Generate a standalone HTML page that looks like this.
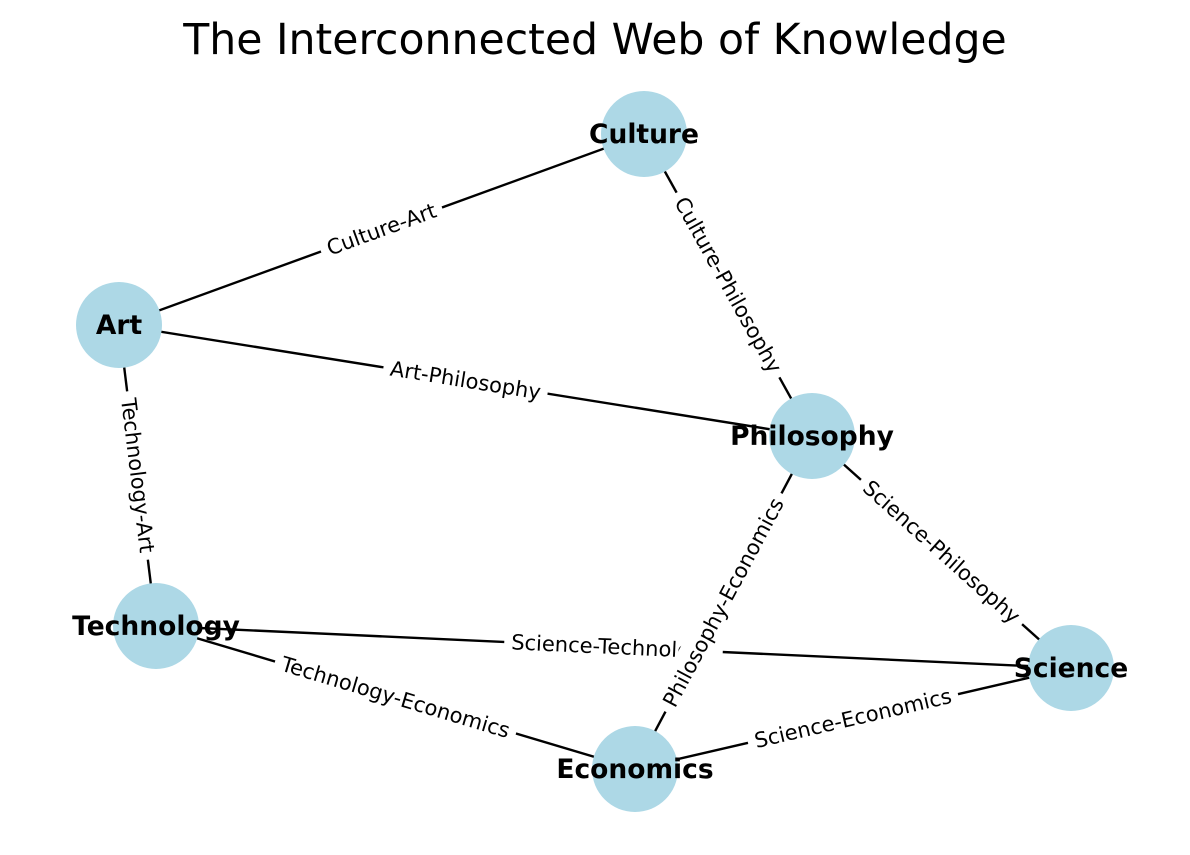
<!DOCTYPE html>
<html><head><meta charset="utf-8"><style>
body{margin:0;background:#fff}
svg{display:block;font-family:"DejaVu Sans","Liberation Sans",sans-serif}
</style></head><body>
<svg id="chart" width="1190" height="855" viewBox="0 0 1190 855" xmlns="http://www.w3.org/2000/svg">
<rect width="1190" height="855" fill="#fff"/>
<text x="595" y="54" text-anchor="middle" font-size="42.6" fill="#000">The Interconnected Web of Knowledge</text>
<g id="edges"></g>
<g id="nodes"></g>
<g id="elabels"></g>
</svg>
<script>
const nodeNames = ["Culture","Art","Philosophy","Technology","Science","Economics"];
const nodeX = [644,119,812,156,1071,635];
const nodeY = [134,325,436,626,668,769];
const edgeFrom = ["Culture","Culture","Art","Technology","Science","Science","Technology","Science","Philosophy"];
const edgeTo = ["Art","Philosophy","Philosophy","Art","Philosophy","Technology","Economics","Economics","Economics"];
const NS="http://www.w3.org/2000/svg";
const eg=document.getElementById('edges'),ng=document.getElementById('nodes'),lg=document.getElementById('elabels');
function pos(n){const i=nodeNames.indexOf(n);return [nodeX[i],nodeY[i]];}
edgeFrom.forEach((f,k)=>{
  const [x1,y1]=pos(f),[x2,y2]=pos(edgeTo[k]);
  const l=document.createElementNS(NS,'line');
  l.setAttribute('x1',x1);l.setAttribute('y1',y1);l.setAttribute('x2',x2);l.setAttribute('y2',y2);
  l.setAttribute('stroke','#000');l.setAttribute('stroke-width','2.4');
  
  
  eg.appendChild(l);
});
nodeNames.forEach((n,i)=>{
  const c=document.createElementNS(NS,'circle');
  c.setAttribute('cx',nodeX[i]);c.setAttribute('cy',nodeY[i]);c.setAttribute('r',43);c.setAttribute('fill','#add8e6');
  
  
  ng.appendChild(c);
  const t=document.createElementNS(NS,'text');
  t.setAttribute('x',nodeX[i]);t.setAttribute('y',nodeY[i]+9);t.setAttribute('text-anchor','middle');
  t.setAttribute('font-size','26.5');t.setAttribute('font-weight','bold');t.textContent=n;
  
  
  ng.appendChild(t);
});
edgeFrom.forEach((f,k)=>{
  const [x1,y1]=pos(f),[x2,y2]=pos(edgeTo[k]);
  const mx=(x1+x2)/2,my=(y1+y2)/2;
  let a=Math.atan2(y2-y1,x2-x1)*180/Math.PI;
  if(a>90)a-=180; if(a<-90)a+=180;
  const g=document.createElementNS(NS,'g');
  g.setAttribute('transform','translate('+mx+','+my+') rotate('+a+')');
  
  
  const r=document.createElementNS(NS,'rect');r.setAttribute('fill','#fff');
  const t=document.createElementNS(NS,'text');
  t.setAttribute('text-anchor','middle');t.setAttribute('y','7');t.setAttribute('font-size','21');
  t.textContent=f+'-'+edgeTo[k];
  g.appendChild(r);g.appendChild(t);lg.appendChild(g);
  const w=t.getComputedTextLength()+14;
  r.setAttribute('x',-w/2);r.setAttribute('y',-17);r.setAttribute('width',w);r.setAttribute('height',34);
});
</script>
</body></html>
